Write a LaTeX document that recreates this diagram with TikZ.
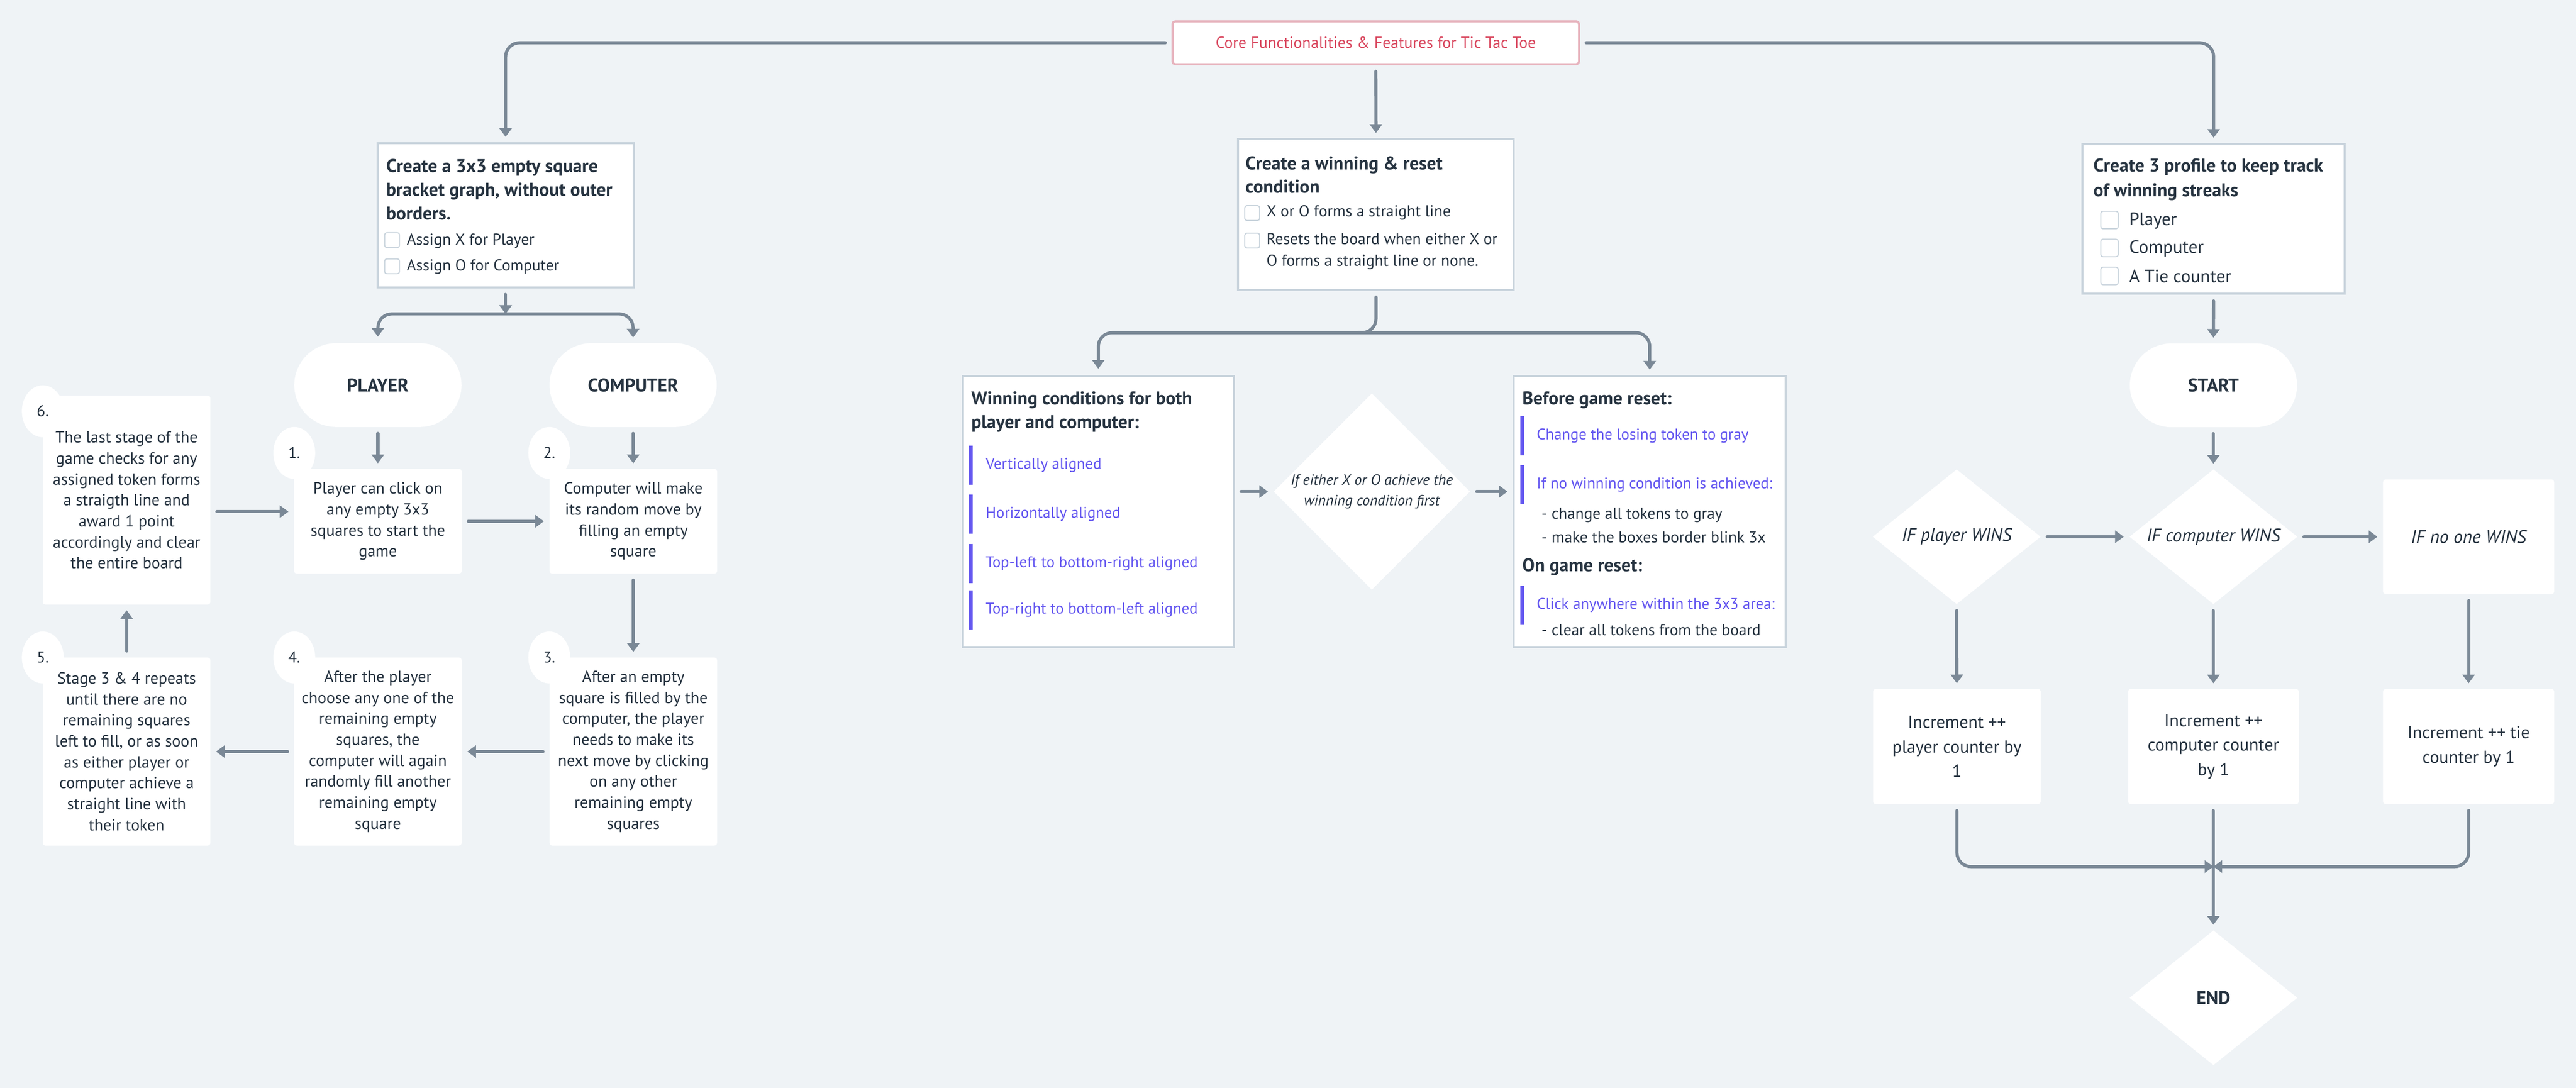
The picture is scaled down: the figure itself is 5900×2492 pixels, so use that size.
\documentclass[tikz,border=0pt]{standalone}
\usepackage{fontspec}
\setmainfont{PT Sans}
\usepackage{tikz}
\usetikzlibrary{arrows.meta,shapes.geometric}

\definecolor{bgcol}{HTML}{EFF3F6}
\definecolor{wire}{HTML}{7A8896}
\definecolor{rim}{HTML}{C8D3DC}
\definecolor{ink}{HTML}{263340}
\definecolor{hint}{HTML}{6457F0}
\definecolor{headred}{HTML}{D9485F}
\definecolor{headrim}{HTML}{E7B3BD}

\tikzset{
  >={Triangle[length=5pt,width=7pt]},
  headbox/.style={draw=headrim, line width=1.2pt, fill=white, rounded corners=1.5pt, minimum width=232.75pt, minimum height=24.5pt, text=headred, font=\fontsize{9.2}{11}\selectfont},
  card/.style={draw=rim, line width=1.2pt, fill=white, inner sep=0pt},
  cardhead/.style={inner sep=0pt, align=left, text=ink, font=\bfseries\fontsize{10.6}{13.5}\selectfont},
  item/.style={inner sep=0pt, align=left, text=ink, font=\fontsize{9.1}{12.25}\selectfont},
  chk/.style={draw=rim, line width=0.6pt, rounded corners=1.2pt, minimum size=8.5pt, inner sep=0pt},
  pill/.style={fill=white, rounded corners=24pt, minimum width=95.75pt, minimum height=48pt, text=ink, font=\bfseries\fontsize{10.6}{12}\selectfont},
  stepbox/.style={fill=white, rounded corners=1.5pt, minimum width=96pt, inner sep=0pt, align=center, text=ink, font=\fontsize{9.3}{12}\selectfont},
  badge/.style={ellipse, fill=white, minimum width=24pt, minimum height=29.75pt, inner sep=0pt, text=ink, font=\fontsize{9}{10}\selectfont},
  choice/.style={diamond, fill=white, inner sep=0pt},
  dtext/.style={align=center, text=ink, font=\itshape\fontsize{10.5}{12}\selectfont},
  plainbox/.style={fill=white, rounded corners=1.5pt, inner sep=0pt, align=center, text=ink, font=\fontsize{10}{14}\selectfont},
  hintbar/.style={anchor=west, inner xsep=8.25pt, inner ysep=0pt, minimum height=22pt, text=hint, font=\fontsize{8.9}{10}\selectfont,
    append after command={(\tikzlastnode.north west) edge[draw=hint, line width=2pt] (\tikzlastnode.south west)}},
  link/.style={draw=wire, line width=1.8pt, line cap=round, ->, shorten <=3.5pt, shorten >=3pt, rounded corners=8pt}
}

\begin{document}
\begin{tikzpicture}[x=0.25pt,y=0.25pt,yscale=-1]
\useasboundingbox (0,0) rectangle (5900,2492);
\fill[bgcol] (0,0) rectangle (5900,2492);

%Shape: Title
\node[headbox] (head) at (3151,98) {Core Functionalities \& Features for Tic Tac Toe};

%Shape: Card [grid]
\node[card, minimum width=146.5pt, minimum height=82.5pt] (grid) at (1158,493) {};
% Text Node
\node[cardhead, anchor=west] (grid-t) at (884,434) {Create a 3x3 empty square\\bracket graph, without outer\\borders.};
\node[chk] (chk-x) at (898,550) {};
\node[item, anchor=west] (item-x) at (931,552) {Assign X for Player};
\node[chk] (chk-o) at (898,610) {};
\node[item, anchor=west] (item-o) at (931,611) {Assign O for Computer};

%Shape: Card [rules]
\node[card, minimum width=157.75pt, minimum height=86.25pt] (rules) at (3151.5,491.5) {};
% Text Node
\node[cardhead, anchor=west] (rules-t) at (2852,400.5) {Create a winning \& reset\\condition};
\node[chk] (chk-line) at (2868,488) {};
\node[item, anchor=west] (item-line) at (2900,487) {X or O forms a straight line};
\node[chk] (chk-reset) at (2868,551) {};
\node[item, anchor=west] (item-reset) at (2900,575.5) {Resets the board when either X or\\O forms a straight line or none.};

%Shape: Card [tally]
\node[card, minimum width=150pt, minimum height=85.75pt] (tally) at (5070,501.5) {};
% Text Node
\node[cardhead, anchor=west, font=\bfseries\fontsize{10.6}{14.25}\selectfont] (tally-t) at (4794,411.5) {Create 3 profile to keep track\\of winning streaks};
\node[chk, minimum size=10pt] (chk-p) at (4831.5,504) {};
\node[item, anchor=west, font=\fontsize{10.3}{11}\selectfont] (item-p) at (4876,506) {Player};
\node[chk, minimum size=10pt] (chk-c) at (4831.5,568) {};
\node[item, anchor=west, font=\fontsize{10.3}{11}\selectfont] (item-c) at (4876,569) {Computer};
\node[chk, minimum size=10pt] (chk-t) at (4831.5,632) {};
\node[item, anchor=west, font=\fontsize{10.3}{11}\selectfont] (item-t) at (4876,633) {A Tie counter};

%Shape: Pills
\node[pill] (player) at (865.5,882) {PLAYER};
\node[pill] (cpu) at (1450,882) {COMPUTER};
\node[pill] (start) at (5069.5,882.5) {START};

%Shape: Steps
\node[stepbox, minimum height=119.75pt] (s6) at (290,1145.5) {The last stage of the\\game checks for any\\assigned token forms\\a straigth line and\\award 1 point\\accordingly and clear\\the entire board};
\node[stepbox, minimum height=60pt] (s1) at (865.5,1194) {Player can click on\\any empty 3x3\\squares to start the\\game};
\node[stepbox, minimum height=60pt] (s2) at (1450.5,1194) {Computer will make\\its random move by\\filling an empty\\square};
\node[stepbox, minimum height=107.75pt] (s5) at (290,1721.5) {Stage 3 \& 4 repeats\\until there are no\\remaining squares\\left to fill, or as soon\\as either player or\\computer achieve a\\straight line with\\their token};
\node[stepbox, minimum height=107.75pt] (s4) at (865.5,1721.5) {After the player\\choose any one of the\\remaining empty\\squares, the\\computer will again\\randomly fill another\\remaining empty\\square};
\node[stepbox, minimum height=107.75pt] (s3) at (1450.5,1721.5) {After an empty\\square is filled by the\\computer, the player\\needs to make its\\next move by clicking\\on any other\\remaining empty\\squares};

%Shape: Badges
\node[badge] (b6) at (98,942) {6.};
\node[badge] (b1) at (674,1037.5) {1.};
\node[badge] (b2) at (1258,1037.5) {2.};
\node[badge] (b5) at (98,1506) {5.};
\node[badge] (b4) at (674,1506) {4.};
\node[badge] (b3) at (1258,1506) {3.};

%Shape: Card [wins]
\node[card, minimum width=155.25pt, minimum height=155.25pt] (wins) at (2515.5,1171.5) {};
% Text Node
\node[cardhead, anchor=west] (wins-t) at (2224,943) {Winning conditions for both\\player and computer:};
\node[hintbar] (w-v) at (2224,1065.5) {Vertically aligned};
\node[hintbar] (w-h) at (2224,1178) {Horizontally aligned};
\node[hintbar] (w-d1) at (2224,1290.5) {Top-left to bottom-right aligned};
\node[hintbar] (w-d2) at (2224,1397.5) {Top-right to bottom-left aligned};

%Shape: Diamond [check]
\node[choice, minimum width=112.5pt, minimum height=112.5pt, label={[dtext, font=\itshape\fontsize{8.5}{12}\selectfont]center:If either X or O achieve the\\winning condition first}] (check) at (3142,1126) {};

%Shape: Card [reset]
\node[card, minimum width=155.75pt, minimum height=155.25pt] (reset) at (3778.5,1171.5) {};
% Text Node
\node[cardhead, anchor=west] (reset-t) at (3486,916) {Before game reset:};
\node[hintbar] (r-lose) at (3486,998) {Change the losing token to gray};
\node[hintbar] (r-none) at (3486,1110) {If no winning condition is achieved:};
\node[item, anchor=west] (r-gray) at (3530,1180) {- change all tokens to gray};
\node[item, anchor=west] (r-blink) at (3530,1231) {- make the boxes border blink 3x};
\node[cardhead, anchor=west] (reset-on) at (3486,1299) {On game reset:};
\node[hintbar] (r-click) at (3486,1386) {Click anywhere within the 3x3 area:};
\node[item, anchor=west] (r-clear) at (3530,1443) {- clear all tokens from the board};

%Shape: Decisions
\node[choice, minimum width=96.25pt, minimum height=77.25pt, label={[dtext]center:IF player WINS}] (pwin) at (4481.5,1229.5) {};
\node[choice, minimum width=96.25pt, minimum height=77.25pt, label={[dtext]center:IF computer WINS}] (cwin) at (5069.5,1229.5) {};
\node[plainbox, minimum width=98pt, minimum height=65.75pt, font=\itshape\fontsize{10.5}{12}\selectfont] (nowin) at (5654,1229.5) {IF no one WINS};

%Shape: Counters
\node[plainbox, minimum width=96pt, minimum height=66pt] (pinc) at (4482,1710) {Increment ++\\player counter by\\1};
\node[plainbox, minimum width=97.75pt, minimum height=66pt] (cinc) at (5069.5,1710) {Increment ++\\computer counter\\by 1};
\node[plainbox, minimum width=98pt, minimum height=66pt] (tinc) at (5654,1710) {Increment ++ tie\\counter by 1};

%Shape: End
\node[choice, minimum width=96.25pt, minimum height=77.25pt, label={[text=ink, font=\bfseries\fontsize{10.6}{12}\selectfont]center:END}] (stop) at (5069.5,2285.5) {};

%Straight Lines
\draw[link] (head.west) -| (grid.north);
\draw[link] (head.south) -- (rules.north);
\draw[link] (head.east) -| (tally.north);

\coordinate (fork) at (1158,719);
\draw[link, shorten >=0pt] (grid.south) -- (fork);
\draw[link, <->] (player.north) |- (fork) -| (cpu.north);

\draw[link] (player.south) -- (s1.north);
\draw[link] (cpu.south) -- (s2.north);
\draw[link] (s6.east |- 0,1172) -- (s1.west |- 0,1172);
\draw[link] (s1.east) -- (s2.west);
\draw[link] (s2.south) -- (s3.north);
\draw[link] (s3.west) -- (s4.east);
\draw[link] (s4.west) -- (s5.east);
\draw[link] (s5.north) -- (s6.south);

\coordinate (split) at (3151,762);
\coordinate (split-l) at (3110,762);
\draw[link, -, shorten >=0pt] (rules.south) |- (split-l);
\draw[link, <->] (wins.north) |- (split) -| (reset.north);
\draw[link] (wins.east |- check) -- (check.west);
\draw[link] (check.east) -- (reset.west |- check);

\draw[link] (tally.south) -- (start.north);
\draw[link] (start.south) -- (cwin.north);
\draw[link] (pwin.east) -- (cwin.west);
\draw[link] (cwin.east) -- (nowin.west);
\draw[link] (pwin.south) -- (pinc.north);
\draw[link] (cwin.south) -- (cinc.north);
\draw[link] (nowin.south) -- (tinc.north);
\draw[link] (cinc.south) -- (stop.north);

\coordinate (merge) at (5069.5,1985);
\draw[link, shorten >=0pt] (pinc.south) |- (merge);
\draw[link, shorten >=0pt] (tinc.south) |- (merge);

\end{tikzpicture}
\end{document}
